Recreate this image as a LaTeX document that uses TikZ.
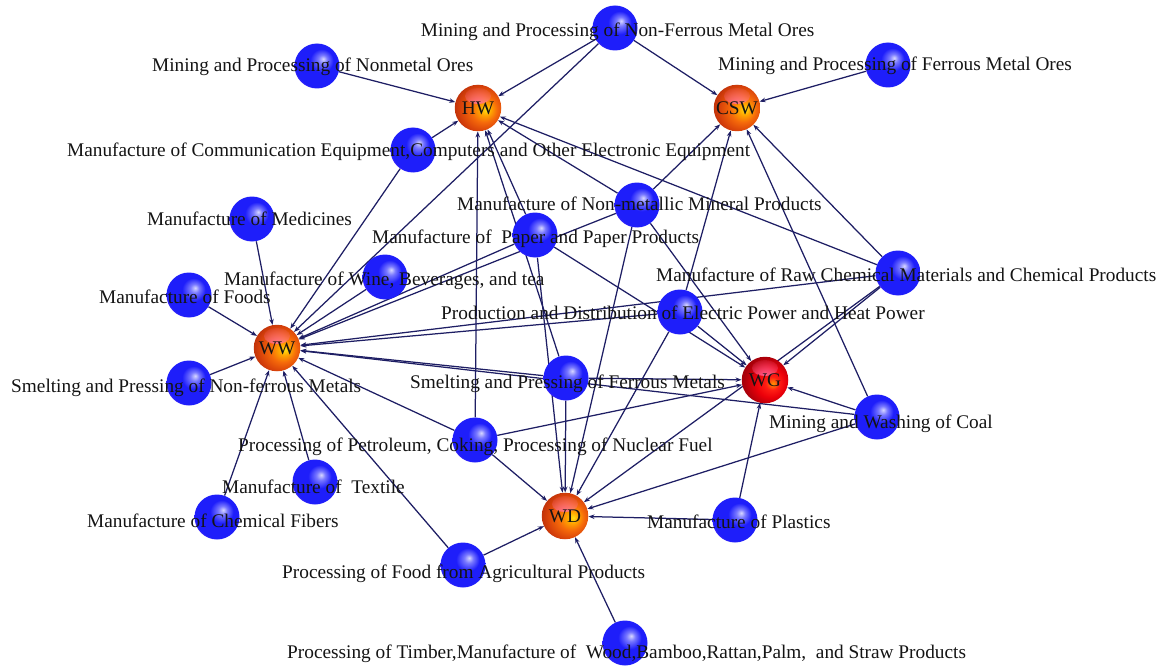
\documentclass[tikz,border=0pt]{standalone}
\usepackage{fontspec}
\setmainfont{Liberation Serif}
\usetikzlibrary{arrows.meta,fadings}
\pgfdeclarelayer{background}
\pgfsetlayers{background,main}
\definecolor{bhi}{RGB}{215,215,255}
\definecolor{bmid}{RGB}{120,120,255}
\definecolor{bmain}{RGB}{30,30,250}
\definecolor{bpur}{RGB}{110,50,245}
\definecolor{bmag}{RGB}{205,70,235}
\definecolor{oyel}{RGB}{255,225,20}
\definecolor{oora}{RGB}{255,165,0}
\definecolor{omid}{RGB}{245,105,10}
\definecolor{odark}{RGB}{215,65,10}
\definecolor{oedge}{RGB}{175,40,10}
\definecolor{rora}{RGB}{255,150,0}
\definecolor{rred}{RGB}{255,30,20}
\definecolor{rmid}{RGB}{235,0,10}
\definecolor{redge}{RGB}{165,0,10}
\definecolor{hipink}{RGB}{255,110,170}
\definecolor{edgec}{RGB}{30,30,100}
\definecolor{txt}{RGB}{20,20,20}
\pgfdeclareradialshading{ballblue}{\pgfpoint{7bp}{8bp}}{color(0bp)=(bhi); color(5bp)=(bmid); color(13bp)=(bmain); color(28bp)=(bmain); color(32bp)=(bpur); color(35bp)=(bmag); color(50bp)=(bmag)}
\pgfdeclareradialshading{ballorange}{\pgfpoint{9bp}{-2bp}}{color(0bp)=(oyel); color(6bp)=(oora); color(14bp)=(omid); color(24bp)=(odark); color(33bp)=(oedge); color(50bp)=(oedge)}
\pgfdeclareradialshading{ballred}{\pgfpoint{9bp}{-4bp}}{color(0bp)=(rora); color(7bp)=(rred); color(16bp)=(rmid); color(28bp)=(redge); color(50bp)=(redge)}
\tikzfading[name=fuzzyspot, inner color=transparent!0, outer color=transparent!100]
\tikzset{
  ballb/.style={circle, minimum size=45pt, inner sep=0pt, shading=ballblue},
  ballsink/.style={circle, minimum size=46.5pt, inner sep=0pt, text=txt,
    font=\fontsize{19.3}{22}\selectfont,
    path picture={\fill[hipink, path fading=fuzzyspot] ([yshift=12pt]path picture bounding box.center) ellipse (13pt and 8pt);}},
  ballo/.style={ballsink, shading=ballorange},
  ballr/.style={ballsink, shading=ballred},
  lab/.style={anchor=base west, inner sep=0pt, text=txt, font=\fontsize{19.3}{22}\selectfont},
  edge/.style={draw=edgec, line width=1.25pt, -{Stealth[length=6pt,width=4.5pt]}}
}
\begin{document}
\begin{tikzpicture}[x=1pt,y=-1pt]
\useasboundingbox (0,0) rectangle (1162,666);
% sinks
\node[ballo] (HW) at (478,108) {HW};
\node[ballo] (CSW) at (737,108) {CSW};
\node[ballo] (WW) at (277,348) {WW};
\node[ballr] (WG) at (765,380) {WG};
\node[ballo] (WD) at (565,516) {WD};
% sources
\node[ballb] (NFO) at (615,28) {};
\node[ballb] (NMO) at (317,66) {};
\node[ballb] (FMO) at (888,65) {};
\node[ballb] (COMM) at (413,150) {};
\node[ballb] (NMMP) at (637,205) {};
\node[ballb] (MED) at (252,219) {};
\node[ballb] (PAPER) at (535,235) {};
\node[ballb] (WINE) at (385,277) {};
\node[ballb] (RAW) at (898,273) {};
\node[ballb] (FOODS) at (189,295) {};
\node[ballb] (EP) at (680,312) {};
\node[ballb] (SNF) at (189,383) {};
\node[ballb] (SF) at (566,378) {};
\node[ballb] (COAL) at (877,417) {};
\node[ballb] (PET) at (475,440) {};
\node[ballb] (TEX) at (315,482) {};
\node[ballb] (CF) at (217,517) {};
\node[ballb] (PLAS) at (735,520) {};
\node[ballb] (PFA) at (463,565) {};
\node[ballb] (TIMBER) at (625,643) {};
% edges
\begin{pgfonlayer}{background}
\foreach \s/\t in {NFO/HW, NFO/CSW, NFO/WW, NMO/HW, FMO/CSW, COMM/HW, COMM/WW,
  MED/WW, FOODS/WW, SNF/WW, CF/WW, TEX/WW, WINE/WW, PFA/WW, PFA/WD,
  PET/WW, PET/HW, PET/WD, PET/WG,
  PAPER/WW, PAPER/HW, PAPER/WG, PAPER/WD,
  NMMP/WW, NMMP/HW, NMMP/CSW, NMMP/WG, NMMP/WD,
  SF/WW, SF/HW, SF/WG, SF/WD,
  EP/WW, EP/CSW, EP/WG, EP/WD,
  RAW/WW, RAW/HW, RAW/CSW, RAW/WG, RAW/WD,
  COAL/WW, COAL/CSW, COAL/WG, COAL/WD,
  PLAS/WD, PLAS/WG, TIMBER/WD}
  \draw[edge] (\s) -- (\t);
\end{pgfonlayer}
% labels
\node[lab] (lNFO) at (420.7,37) {Mining and Processing of Non-Ferrous Metal Ores};
\node[lab] (lNMO) at (152,72) {Mining and Processing of Nonmetal Ores};
\node[lab] (lFMO) at (718,71) {Mining and Processing of Ferrous Metal Ores};
\node[lab] (lCOMM) at (67,157) {Manufacture of Communication Equipment,Computers and Other Electronic Equipment};
\node[lab] (lNMMP) at (457,210.5) {Manufacture of Non-metallic Mineral Products};
\node[lab] (lMED) at (147,225) {Manufacture of Medicines};
\node[lab] (lPAPER) at (372,243) {Manufacture of~ Paper and Paper Products};
\node[lab] (lWINE) at (224,285) {Manufacture of Wine, Beverages, and tea};
\node[lab] (lRAW) at (656,281) {Manufacture of Raw Chemical Materials and Chemical Products};
\node[lab] (lFOODS) at (99,303) {Manufacture of Foods};
\node[lab] (lEP) at (441,319) {Production and Distribution of Electric Power and Heat Power};
\node[lab] (lSNF) at (11,392) {Smelting and Pressing of Non-ferrous Metals};
\node[lab] (lSF) at (410,388) {Smelting and Pressing of Ferrous Metals};
\node[lab] (lCOAL) at (769,428) {Mining and Washing of Coal};
\node[lab] (lPET) at (238,451) {Processing of Petroleum, Coking, Processing of Nuclear Fuel};
\node[lab] (lTEX) at (222,493) {Manufacture of~ Textile};
\node[lab] (lCF) at (87,527) {Manufacture of Chemical Fibers};
\node[lab] (lPLAS) at (647,528) {Manufacture of Plastics};
\node[lab] (lPFA) at (282,578) {Processing of Food from Agricultural Products};
\node[lab] (lTIMBER) at (287,658) {Processing of Timber,Manufacture of~ Wood,Bamboo,Rattan,Palm,~ and Straw Products};
\end{tikzpicture}
\end{document}
